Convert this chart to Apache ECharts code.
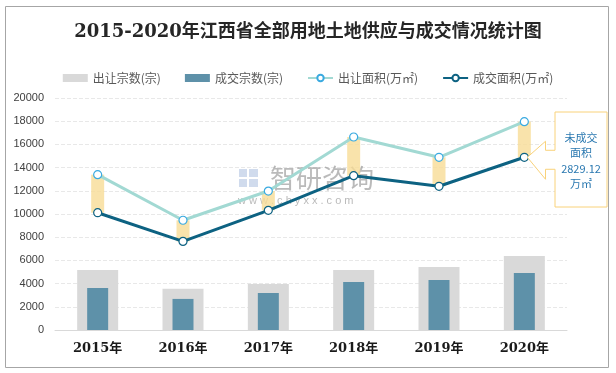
<!DOCTYPE html>
<html><head><meta charset="utf-8">
<script src="https://cdn.jsdelivr.net/npm/echarts@6/dist/echarts.min.js"></script>
<style>html,body{margin:0;padding:0;background:#fff}#c{width:616px;height:373px}</style>
</head><body><div id="c"></div>
<script>
const categories = ['2015年','2016年','2017年','2018年','2019年','2020年'];
const supplyCount = [5180, 3550, 3970, 5180, 5430, 6380];
const dealCount = [3620, 2680, 3190, 4140, 4310, 4910];
const supplyArea = [13390, 9460, 11980, 16640, 14890, 17960];
const dealArea = [10110, 7640, 10320, 13300, 12390, 14890];
const yTicks = [0, 2000, 4000, 6000, 8000, 10000, 12000, 14000, 16000, 18000, 20000];
const unsoldLabel = '2829.12';
const gapValues = supplyArea.map((v, i) => v - dealArea[i]);

const chart = echarts.init(document.getElementById('c'), null, {renderer: 'canvas'});
const xBase = {type: 'category', data: categories, gridIndex: 0};
chart.setOption({
  backgroundColor: '#fff',
  animation: false,
  title: {
    text: '2015-2020年江西省全部用地土地供应与成交情况统计图',
    left: 'center', top: 18,
    textStyle: {fontSize: 18, fontWeight: 'bold', color: '#262626', fontFamily: 'DejaVu Serif, Noto Sans CJK SC'}
  },
  legend: {
    top: 67, left: 'center', itemGap: 24, itemWidth: 25, itemHeight: 8,
    textStyle: {fontSize: 12, color: '#595959', fontFamily: 'Noto Sans CJK SC'},
    data: [
      {name: '出让宗数(宗)', icon: 'rect'},
      {name: '成交宗数(宗)', icon: 'rect'},
      {name: '出让面积(万㎡)'},
      {name: '成交面积(万㎡)'}
    ]
  },
  grid: {left: 55, right: 49, top: 98, bottom: 43},
  xAxis: [
    Object.assign({}, xBase, {
      axisLine: {lineStyle: {color: '#D9D9D9'}}, axisTick: {show: false},
      axisLabel: {fontSize: 13, fontWeight: 'bold', color: '#1a1a1a', margin: 12, fontFamily: 'DejaVu Serif, Noto Sans CJK SC'}
    }),
    Object.assign({}, xBase, {show: false}),
    Object.assign({}, xBase, {show: false})
  ],
  yAxis: {
    type: 'value', min: yTicks[0], max: yTicks[yTicks.length - 1], interval: 2000,
    axisLine: {show: false}, axisTick: {show: false},
    axisLabel: {fontSize: 11, color: '#404040', margin: 11, fontFamily: 'Liberation Sans', formatter: v => String(v)},
    splitLine: {lineStyle: {color: '#E8E8E8', type: 'dashed'}}
  },
  graphic: [
    {type: 'rect', shape: {x: 5.5, y: 6.5, width: 603, height: 361}, style: {fill: 'none', stroke: '#A6A6A6', lineWidth: 1}, z: -1},
    {type: 'text', left: 270, top: 165, style: {text: '智研咨询', fontSize: 26, fill: 'rgba(140,140,140,0.6)', fontFamily: 'Noto Sans CJK SC'}, z: 1},
    {type: 'text', left: 238, top: 195, style: {text: 'w w w . c h y x x . c o m', fontSize: 11, fill: 'rgba(140,140,140,0.6)', fontFamily: 'Liberation Sans'}, z: 1},
    {type: 'rect', shape: {x: 239, y: 169, width: 8, height: 8}, style: {fill: 'rgba(150,175,215,0.45)'}, z: 1},
    {type: 'rect', shape: {x: 249, y: 169, width: 9, height: 8}, style: {fill: 'rgba(150,175,215,0.45)'}, z: 1},
    {type: 'rect', shape: {x: 239, y: 179, width: 8, height: 8}, style: {fill: 'rgba(150,175,215,0.45)'}, z: 1},
    {type: 'rect', shape: {x: 249, y: 179, width: 9, height: 8}, style: {fill: 'rgba(150,175,215,0.45)'}, z: 1}
  ],
  series: [
    {name: '出让宗数(宗)', type: 'bar', xAxisIndex: 0, data: supplyCount, barWidth: 41, itemStyle: {color: '#D9D9D9'}, z: 2},
    {name: '成交宗数(宗)', type: 'bar', xAxisIndex: 1, data: dealCount, barWidth: 21, itemStyle: {color: '#5E91A9'}, z: 3},
    {name: 'base', type: 'bar', xAxisIndex: 2, stack: 'gap', data: dealArea, barWidth: 13, itemStyle: {color: 'transparent'}, z: 3, silent: true},
    {name: 'gap', type: 'bar', xAxisIndex: 2, stack: 'gap', data: gapValues, barWidth: 13, itemStyle: {color: 'rgba(247,220,150,0.8)'}, z: 3},
    {name: '出让面积(万㎡)', type: 'line', xAxisIndex: 0, data: supplyArea, symbol: 'circle', symbolSize: 8,
      lineStyle: {color: '#A2D9D3', width: 3}, itemStyle: {color: '#fff', borderColor: '#3AAAE0', borderWidth: 1.2}, z: 5},
    {name: '成交面积(万㎡)', type: 'line', xAxisIndex: 0, data: dealArea, symbol: 'circle', symbolSize: 8,
      lineStyle: {color: '#0D6282', width: 3}, itemStyle: {color: '#fff', borderColor: '#0D6282', borderWidth: 1.2}, z: 5}
  ]
});

// callout pointing at 2020 deal point
const tip = chart.convertToPixel({xAxisIndex: 0, yAxisIndex: 0}, [5, dealArea[5]]);
const bx = 555, by = 112, bw = 52, bh = 95;
const pts = [
  [bx, by], [bx + bw, by], [bx + bw, by + bh], [bx, by + bh],
  [bx, tip[1] + 12], [bx - 9.5, tip[1] + 12], [bx - 9.5, tip[1] + 22],
  [tip[0] + 3, tip[1]],
  [bx - 9.5, tip[1] - 16], [bx - 9.5, tip[1] - 7], [bx, tip[1] - 7]
];
chart.setOption({
  graphic: [
    {}, {}, {}, {}, {}, {}, {},
    {type: 'polygon', shape: {points: pts}, style: {fill: '#fff', stroke: '#F9D27A', lineWidth: 1}, z: 10},
    {type: 'text', x: bx + bw / 2, y: by + 18, style: {
      text: '未成交\n面积\n' + unsoldLabel + '\n万㎡', fontSize: 11, lineHeight: 15.5,
      fill: '#2A78B0', align: 'center', verticalAlign: 'top', fontFamily: 'Noto Sans CJK SC'}, z: 11}
  ]
});
</script></body></html>
